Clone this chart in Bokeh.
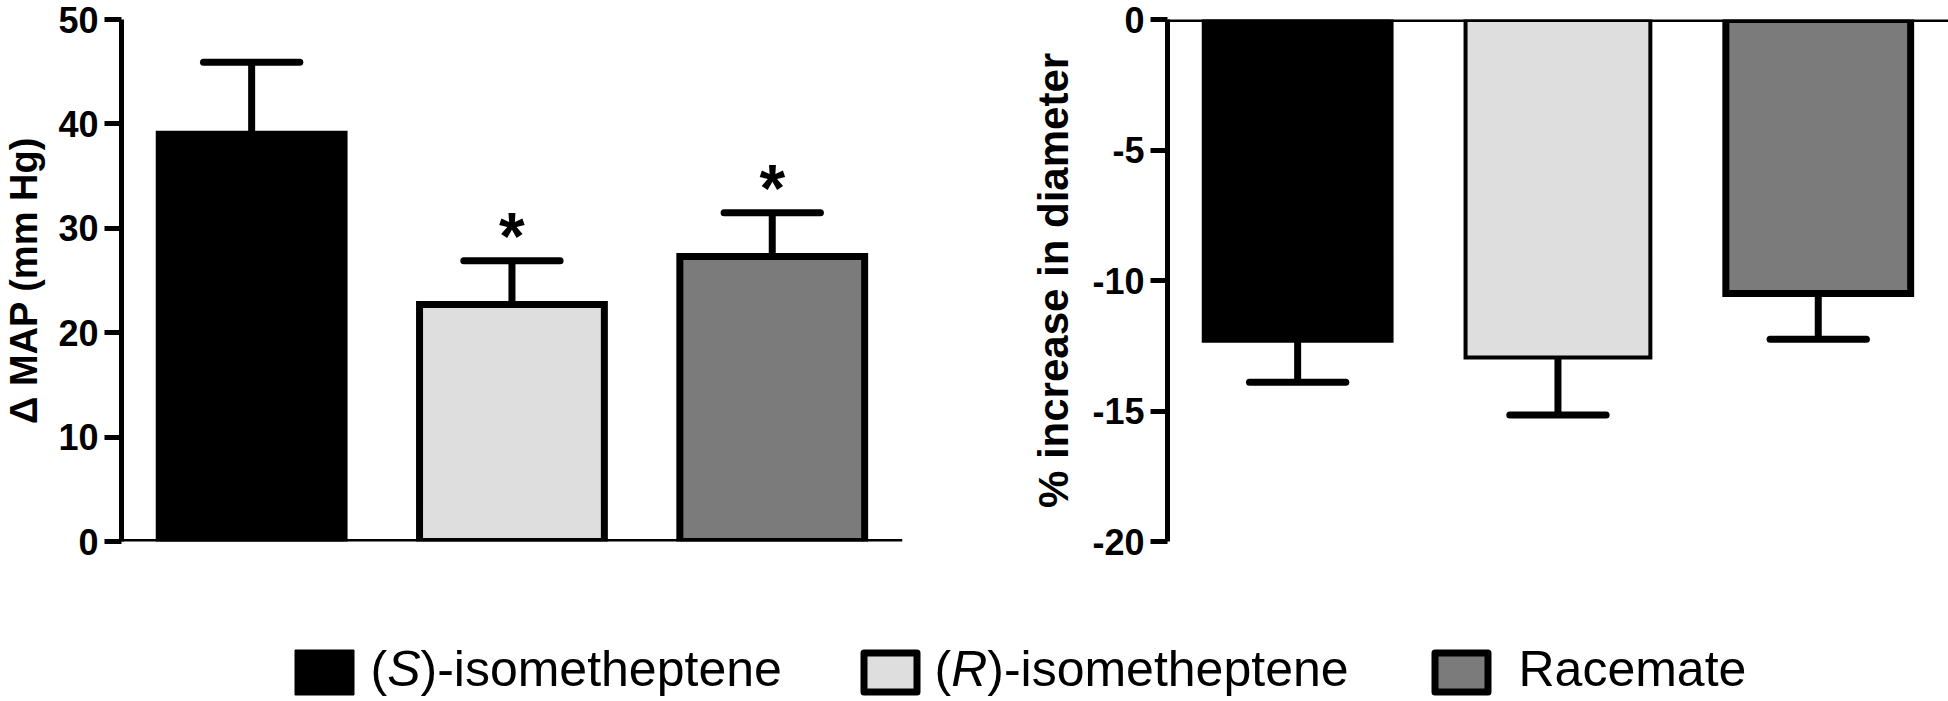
from bokeh.plotting import figure
from bokeh.layouts import row, column
from bokeh.models import ColumnDataSource, Span, FixedTicker, Range1d
from bokeh.core.properties import value
from bokeh.embed import file_html
from bokeh.resources import INLINE

# ---------------- data ----------------
groups = ["(S)-isometheptene", "(R)-isometheptene", "Racemate"]
italic_part = ["S", "R", None]
group_pos = [1, 2, 3]
fill_colors = ["#000000", "#dedede", "#7b7b7b"]

map_mean = [39.0, 22.7, 27.3]
map_sem = [6.9, 4.2, 4.2]
map_significant = [False, True, True]
map_ticks = [0, 10, 20, 30, 40, 50]
map_title = "\u0394 MAP (mm Hg)"

diam_mean = [-12.25, -12.95, -10.5]
diam_sem = [1.65, 2.2, 1.75]
diam_ticks = [-20, -15, -10, -5, 0]
diam_title = "% increase in diameter"

FONT = "Liberation Sans"
PX_PER_UNIT = 260.3   # horizontal pixels per category step
FRAME_H = 522
BAR_W = 0.71
CAP_HALF = 0.185


def make_panel(means, sems, ticks, yr, title, title_size, frame_w, border_left, border_right,
               outline_w, sign, label_standoff, stars=None):
    xr_end = 0.5 + frame_w / PX_PER_UNIT
    p = figure(x_range=Range1d(0.5, xr_end), y_range=Range1d(*yr),
               frame_width=frame_w, frame_height=FRAME_H,
               min_border_left=border_left, min_border_right=border_right,
               min_border_top=19, min_border_bottom=26,
               x_axis_location=None, y_axis_location="left",
               toolbar_location=None, output_backend="svg",
               outline_line_color=None, background_fill_color="white")
    p.grid.grid_line_color = None

    src = ColumnDataSource(dict(x=group_pos, top=means, fill=fill_colors, lw=outline_w))
    p.vbar(x="x", top="top", bottom=0, width=BAR_W, source=src,
           fill_color="fill", line_color="black", line_width="lw", line_join="miter")

    err = [m + sign * s for m, s in zip(means, sems)]
    p.segment(x0=group_pos, y0=means, x1=group_pos, y1=err,
              line_color="black", line_width=7, line_cap="butt")
    p.segment(x0=[g - CAP_HALF for g in group_pos], y0=err,
              x1=[g + CAP_HALF for g in group_pos], y1=err,
              line_color="black", line_width=7, line_cap="round")

    if stars is not None:
        sx = [g for g, s in zip(group_pos, stars) if s]
        sy = [e + 2.4 for e, s in zip(err, stars) if s]
        p.text(x=sx, y=sy, text=["*"] * len(sx), text_font=value(FONT),
               text_font_style="bold", text_font_size="66px",
               text_align="center", text_baseline="alphabetic", text_color="black")

    p.add_layout(Span(location=0, dimension="width", line_color="black", line_width=5))

    ax = p.yaxis[0]
    ax.ticker = FixedTicker(ticks=ticks)
    ax.major_label_overrides = {t: str(t) for t in ticks}
    ax.minor_tick_line_color = None
    ax.major_tick_out = 17
    ax.major_tick_in = 0
    ax.major_tick_line_width = 5
    ax.major_tick_line_color = "black"
    ax.axis_line_width = 5
    ax.axis_line_color = "black"
    ax.major_label_standoff = 6
    ax.major_label_text_font = FONT
    ax.major_label_text_font_style = "bold"
    ax.major_label_text_font_size = "36px"
    ax.major_label_text_color = "black"
    ax.axis_label = title
    ax.axis_label_text_font = FONT
    ax.axis_label_text_font_style = "bold"
    ax.axis_label_text_font_size = title_size
    ax.axis_label_text_color = "black"
    ax.axis_label_standoff = label_standoff
    return p


left = make_panel(map_mean, map_sem, map_ticks, (0, 50), map_title, "38px",
                  frame_w=781, border_left=118, border_right=101,
                  outline_w=[7, 7, 7], sign=1, label_standoff=10,
                  stars=map_significant)
right = make_panel(diam_mean, diam_sem, diam_ticks, (-20, 0), diam_title, "42px",
                   frame_w=781, border_left=164, border_right=1,
                   outline_w=[7, 4, 7], sign=-1, label_standoff=12)

# ---------------- legend (own strip below the panels) ----------------
LEG_W, LEG_H = 1946, 133
leg = figure(x_range=Range1d(0, LEG_W), y_range=Range1d(0, LEG_H),
             width=LEG_W, height=LEG_H, min_border=0,
             x_axis_location=None, y_axis_location=None,
             toolbar_location=None, output_backend="svg", outline_line_color=None)
leg.grid.grid_line_color = None

sq_left = [294, 860, 1431]
text_left = [370, 934, 1518]
SQ_W, SQ_H, SQ_Y = 60, 46, 28
leg_lw = [1, 7, 7]
leg.rect(x=[l + SQ_W / 2 for l in sq_left], y=[SQ_Y] * 3,
         width=[SQ_W - w for w in leg_lw], height=[SQ_H - w for w in leg_lw],
         fill_color=fill_colors, line_color="black", line_width=leg_lw,
         line_join="round")

FS = 50
TXT_Y = 32
glyph_w = {"(": 0.333, "S": 0.667, "R": 0.722}
for name, ital, x0 in zip(groups, italic_part, text_left):
    if ital:
        rest = name[2:]
        xs = [x0, x0 + glyph_w["("] * FS, x0 + (glyph_w["("] + glyph_w[ital]) * FS]
        parts = ["(", ital, rest]
        styles = ["normal", "italic", "normal"]
        for xx, tt, st in zip(xs, parts, styles):
            leg.text(x=[xx], y=[TXT_Y], text=[tt], text_font=value(FONT),
                     text_font_style=st, text_font_size=f"{FS}px",
                     text_align="left", text_baseline="alphabetic", text_color="black")
    else:
        leg.text(x=[x0], y=[TXT_Y], text=[name], text_font=value(FONT),
                 text_font_size=f"{FS}px", text_align="left",
                 text_baseline="alphabetic", text_color="black")

layout = column(row(left, right), leg)
open("out.html", "w").write(file_html(layout, INLINE))
